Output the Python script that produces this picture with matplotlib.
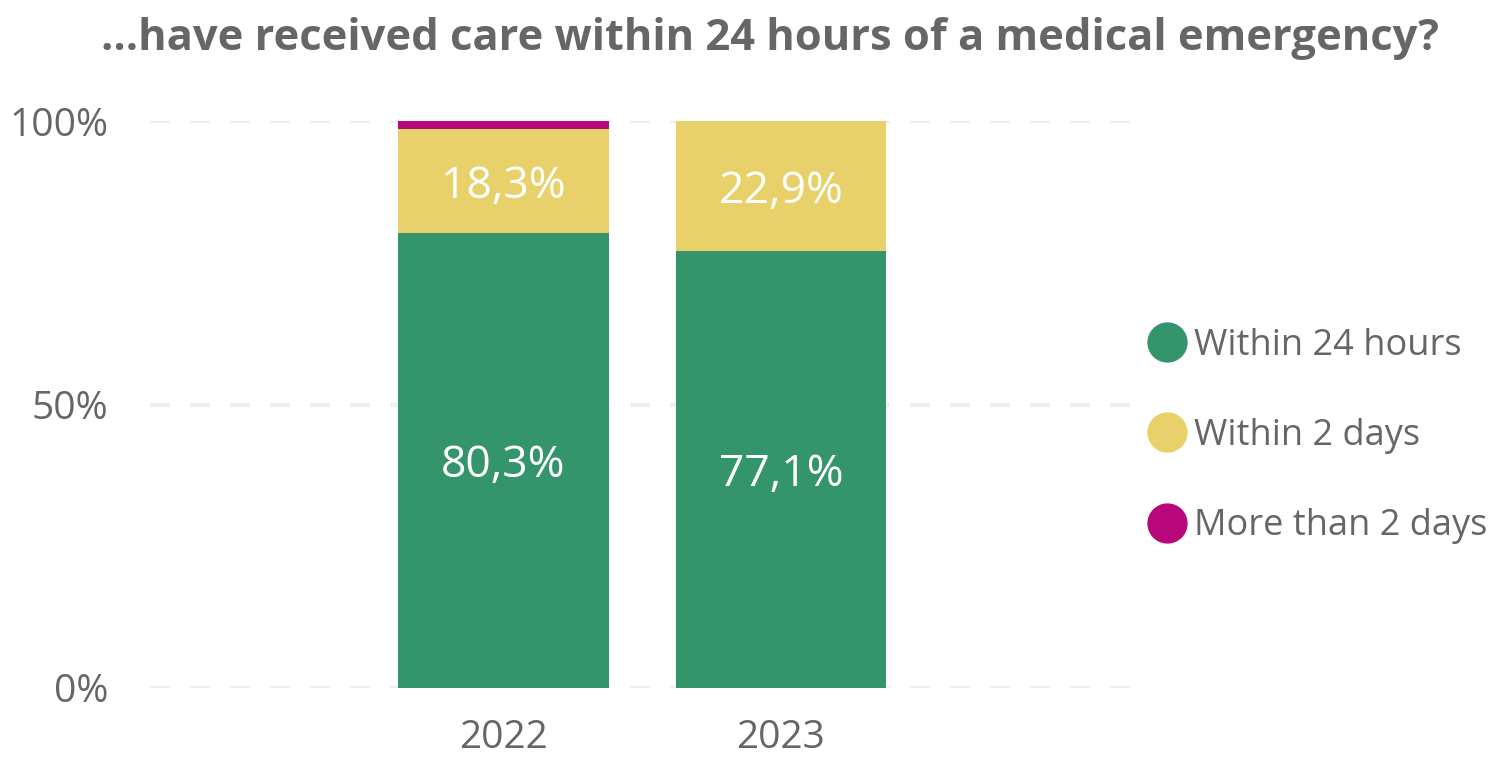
import matplotlib.pyplot as plt
from matplotlib.lines import Line2D

# data (percent of respondents)
years = ["2022", "2023"]
within_24h = [80.3, 77.1]
within_2d = [18.3, 22.9]
more_2d = [1.4, 0.0]
series_names = ["Within 24 hours", "Within 2 days", "More than 2 days"]
colors = ["#34956C", "#E8D16A", "#B8077A"]

GREY = "#666666"
plt.rcParams["font.family"] = ["Open Sans", "DejaVu Sans"]

fig = plt.figure(figsize=(15.01, 7.57), dpi=100)
ax = fig.add_axes([150 / 1501, 1 - 688 / 757, 980 / 1501, 567 / 757])

x = list(range(len(years)))
w = 0.76
bottoms = [0.0] * len(years)
for vals, col in zip([within_24h, within_2d, more_2d], colors):
    ax.bar(x, vals, w, bottom=bottoms, color=col, zorder=2)
    for xi, v, b in zip(x, vals, bottoms):
        if v >= 5:
            ax.text(xi, b + v / 2, f"{v:.1f}%".replace(".", ","), ha="center", va="center_baseline",
                    color="white", fontsize=32, zorder=3)
    bottoms = [b + v for b, v in zip(bottoms, vals)]

ax.set_xlim(-1.274, 2.258)
ax.set_ylim(0, 100)
ax.set_yticks([0, 50, 100])
ax.set_yticklabels(["0%", "50%", "100%"])
ax.set_xticks(x)
ax.set_xticklabels(years)
ax.tick_params(length=0, labelsize=28, colors=GREY)
ax.tick_params(axis="y", pad=30)
ax.tick_params(axis="x", pad=22)
ax.grid(axis="y", color="#EFEFEF", linewidth=3, linestyle=(0, (4.8, 4.8)), zorder=1)
for s in ax.spines.values():
    s.set_visible(False)

fig.text(0.513, 1 - 38 / 757, "...have received care within 24 hours of a medical emergency?",
         ha="center", va="center", fontsize=31.3, fontweight="bold", color=GREY)

handles = [Line2D([], [], marker="o", linestyle="", markersize=28, markerfacecolor=c,
                  markeredgecolor=c) for c in colors]
fig.legend(handles, series_names, loc="center left", bbox_to_anchor=(1131 / 1501, 1 - 436 / 757),
           frameon=False, fontsize=26, labelcolor=GREY, handlelength=1.0, handletextpad=0.25,
           labelspacing=1.5, borderpad=0)

fig.savefig("out.png", dpi=100)
